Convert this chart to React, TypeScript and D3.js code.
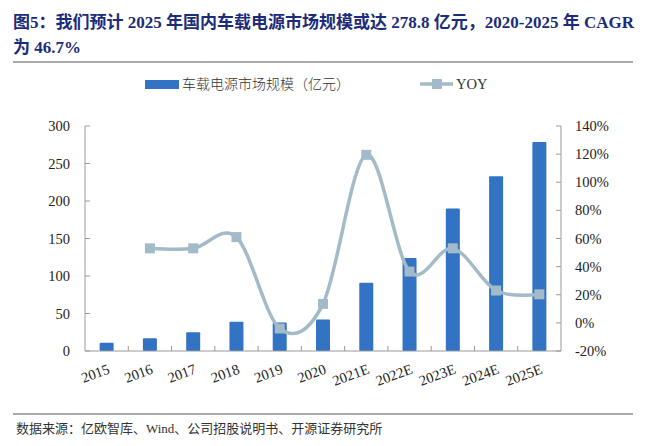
import React, { useEffect, useRef } from 'react';
import * as d3 from 'd3';

const years = ['2015', '2016', '2017', '2018', '2019', '2020', '2021E', '2022E', '2023E', '2024E', '2025E'];
const marketSize = [11, 17, 25, 39, 38, 42, 91, 124, 190, 233, 278.8];
const yoy: (number | null)[] = [null, 53, 53, 61, -4, 13.5, 119.5, 36.5, 53, 23, 20.3];
const leftTicks = [0, 50, 100, 150, 200, 250, 300];
const rightTicks = [-20, 0, 20, 40, 60, 80, 100, 120, 140];

const W = 646;
const H = 446;
const serif = '"Liberation Serif", "Noto Sans CJK SC", serif';
const cjk = '"Noto Sans CJK SC", sans-serif';

const App: React.FC = () => {
  const svgRef = useRef<SVGSVGElement>(null);

  useEffect(() => {
    if (!svgRef.current) return;
    const svg = d3.select(svgRef.current);
    svg.selectAll('*').remove();

    const left = 85;
    const right = 561;
    const top = 126;
    const bottom = 351;
    const axisColor = '#9a9a9a';
    const barColor = '#3273c4';
    const lineColor = '#a3bbc8';

    // title
    const title = svg.append('text')
      .attr('font-family', serif)
      .attr('font-weight', 'bold')
      .attr('font-size', 17)
      .attr('fill', '#1c2b7a');
    title.append('tspan').attr('x', 13).attr('y', 28)
      .text('图5：我们预计 2025 年国内车载电源市场规模或达 278.8 亿元，2020-2025 年 CAGR');
    title.append('tspan').attr('x', 13).attr('y', 53).text('为 46.7%');

    svg.append('line')
      .attr('x1', 13).attr('x2', 633).attr('y1', 62).attr('y2', 62)
      .attr('stroke', '#8c8c8c').attr('stroke-width', 1.5);
    svg.append('line')
      .attr('x1', 13).attr('x2', 633).attr('y1', 414).attr('y2', 414)
      .attr('stroke', '#8c8c8c').attr('stroke-width', 1.5);

    svg.append('text')
      .attr('x', 16).attr('y', 433)
      .attr('font-family', serif)
      .attr('font-size', 13)
      .attr('fill', '#333')
      .text('数据来源：亿欧智库、Wind、公司招股说明书、开源证券研究所');

    // scales
    const x = d3.scaleBand().domain(years).range([left, right]).paddingInner(0).paddingOuter(0);
    const y = d3.scaleLinear().domain([0, 300]).range([bottom, top]);
    const y2 = d3.scaleLinear().domain([-20, 140]).range([bottom, top]);
    const barW = 14;

    // bars
    svg.append('g').selectAll('rect')
      .data(marketSize)
      .enter()
      .append('rect')
      .attr('x', (d, i) => (x(years[i]) as number) + x.bandwidth() / 2 - barW / 2)
      .attr('y', d => y(d))
      .attr('width', barW)
      .attr('height', d => bottom - y(d))
      .attr('rx', 1)
      .attr('fill', barColor);

    // axes
    const ax = svg.append('g').attr('stroke', axisColor).attr('stroke-width', 1);
    ax.append('line').attr('x1', left).attr('x2', left).attr('y1', top).attr('y2', bottom);
    ax.append('line').attr('x1', right).attr('x2', right).attr('y1', top).attr('y2', bottom);
    ax.append('line').attr('x1', left).attr('x2', right).attr('y1', bottom).attr('y2', bottom);
    leftTicks.forEach(t => {
      ax.append('line').attr('x1', left).attr('x2', left + 5).attr('y1', y(t)).attr('y2', y(t));
    });
    rightTicks.forEach(t => {
      ax.append('line').attr('x1', right - 5).attr('x2', right).attr('y1', y2(t)).attr('y2', y2(t));
    });
    years.forEach((yr, i) => {
      if (i === 0) return;
      const px = x(yr) as number;
      ax.append('line').attr('x1', px).attr('x2', px).attr('y1', bottom).attr('y2', bottom - 5);
    });

    // tick labels
    const lbl = svg.append('g').attr('font-family', serif).attr('font-size', 14.5).attr('fill', '#222');
    leftTicks.forEach(t => {
      lbl.append('text').attr('x', left - 15).attr('y', y(t)).attr('dy', '0.35em')
        .attr('text-anchor', 'end').text(t);
    });
    rightTicks.forEach(t => {
      lbl.append('text').attr('x', right + 14).attr('y', y2(t)).attr('dy', '0.35em')
        .text(`${t}%`);
    });
    years.forEach(yr => {
      const cx = (x(yr) as number) + x.bandwidth() / 2 + 4;
      lbl.append('text')
        .attr('text-anchor', 'end')
        .attr('transform', `translate(${cx},373) rotate(-20)`)
        .text(yr);
    });

    // YOY line
    const pts = yoy
      .map((v, i) => ({ v, i }))
      .filter(d => d.v !== null) as { v: number; i: number }[];
    const cxOf = (i: number) => (x(years[i]) as number) + x.bandwidth() / 2;
    const line = d3.line<{ v: number; i: number }>()
      .x(d => cxOf(d.i))
      .y(d => y2(d.v))
      .curve(d3.curveCardinal.tension(0));
    svg.append('path')
      .attr('d', line(pts) as string)
      .attr('fill', 'none')
      .attr('stroke', lineColor)
      .attr('stroke-width', 3.5);
    svg.append('g').selectAll('rect')
      .data(pts)
      .enter()
      .append('rect')
      .attr('x', d => cxOf(d.i) - 5)
      .attr('y', d => y2(d.v) - 5)
      .attr('width', 10)
      .attr('height', 10)
      .attr('fill', lineColor);

    // legend
    svg.append('rect').attr('x', 145).attr('y', 80).attr('width', 34).attr('height', 9).attr('fill', barColor);
    svg.append('text').attr('x', 182).attr('y', 84).attr('dy', '0.35em')
      .attr('font-family', cjk).attr('font-size', 14).attr('font-weight', 300).attr('fill', '#333')
      .text('车载电源市场规模（亿元）');
    svg.append('line').attr('x1', 420).attr('x2', 453).attr('y1', 84).attr('y2', 84)
      .attr('stroke', lineColor).attr('stroke-width', 3.5);
    svg.append('rect').attr('x', 432).attr('y', 79).attr('width', 10).attr('height', 10).attr('fill', lineColor);
    svg.append('text').attr('x', 456).attr('y', 84).attr('dy', '0.35em')
      .attr('font-family', serif).attr('font-size', 14.5).attr('fill', '#333')
      .text('YOY');
  }, []);

  return (
    <svg ref={svgRef} width={W} height={H} style={{ position: 'absolute', left: 0, top: 0, background: '#fff' }} />
  );
};

export default App;
